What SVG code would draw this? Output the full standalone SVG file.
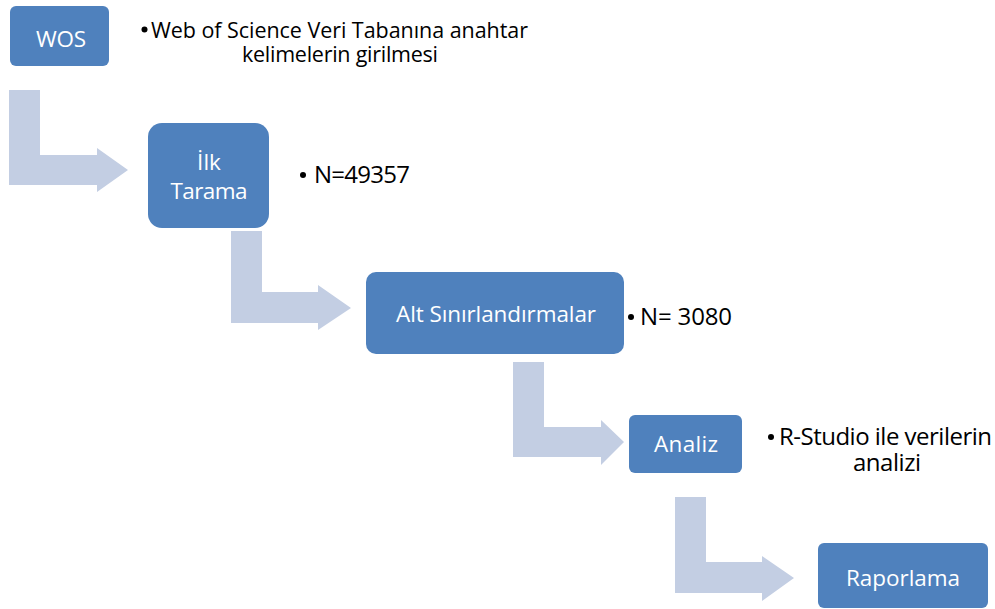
<svg xmlns="http://www.w3.org/2000/svg" width="995" height="609" viewBox="0 0 995 609">
<style>
.box{fill:#4F81BD;}
.arr{fill:#C3CEE3;}
.bt{font-family:"Open Sans","Noto Sans","Liberation Sans",sans-serif;font-size:22.5px;fill:#FFFFFF;text-anchor:middle;}
.lt{font-family:"Open Sans","Noto Sans","Liberation Sans",sans-serif;font-size:21.5px;fill:#000000;}
.lg{font-family:"Open Sans","Noto Sans","Liberation Sans",sans-serif;font-size:24px;fill:#000000;}
.dot{fill:#000000;}
</style>
<rect width="995" height="609" fill="#FFFFFF"/>
<g id="connectors">
<path class="arr" d="M9,90 H40 V155 H97 V148 L128,170 L97,192 V185 H9 Z"/>
<path class="arr" d="M231,231 H262 V292 H318 V285 L351,308 L318,330 V323 H231 Z"/>
<path class="arr" d="M513,362 H544 V427 H601 V420 L624,442 L601,465 V457 H513 Z"/>
<path class="arr" d="M675,497 H706 V562 H762 V556 L794,578 L762,601 V593 H675 Z"/>
</g>
<g id="wos">
<rect class="box" x="10" y="6" width="99" height="60" rx="6"/>
<text class="bt" x="61" y="47" textLength="50">WOS</text>
</g>
<g id="wos-note">
<circle class="dot" cx="144.5" cy="29.5" r="3"/>
<text class="lt"><tspan x="151" y="37.5" textLength="377">Web of Science Veri Tabanına anahtar</tspan><tspan x="340" y="62" text-anchor="middle" textLength="196">kelimelerin girilmesi</tspan></text>
</g>
<g id="ilk-tarama">
<rect class="box" x="148" y="123" width="121" height="105" rx="14"/>
<text class="bt"><tspan x="209" y="170">İlk</tspan><tspan x="209" y="199" textLength="77">Tarama</tspan></text>
</g>
<g id="ilk-note">
<circle class="dot" cx="303" cy="175" r="3"/>
<text class="lg" x="314" y="183" textLength="96">N=49357</text>
</g>
<g id="alt">
<rect class="box" x="366" y="272" width="258" height="82" rx="10"/>
<text class="bt" x="496" y="322" textLength="200">Alt Sınırlandırmalar</text>
</g>
<g id="alt-note">
<circle class="dot" cx="631" cy="317" r="3"/>
<text class="lg" x="640" y="325" textLength="92">N= 3080</text>
</g>
<g id="analiz">
<rect class="box" x="629" y="415" width="113" height="58" rx="6"/>
<text class="bt" x="686" y="452" textLength="64">Analiz</text>
</g>
<g id="analiz-note">
<circle class="dot" cx="771" cy="437" r="3"/>
<text class="lg"><tspan x="779" y="445" textLength="213">R-Studio ile verilerin</tspan><tspan x="887" y="471" text-anchor="middle" textLength="68">analizi</tspan></text>
</g>
<g id="raporlama">
<rect class="box" x="818" y="543" width="170" height="65" rx="6"/>
<text class="bt" x="903" y="586" textLength="114">Raporlama</text>
</g>
</svg>
